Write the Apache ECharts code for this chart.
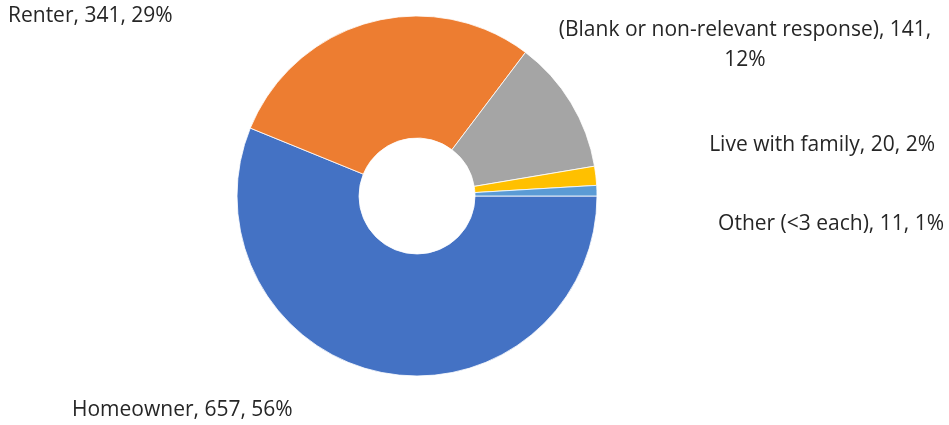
<!DOCTYPE html>
<html>
<head>
<meta charset="utf-8">
<script src="https://cdn.jsdelivr.net/npm/echarts@6/dist/echarts.min.js"></script>
<style>
  html, body { margin: 0; padding: 0; background: #fff; }
  #chart { width: 949px; height: 425px; }
</style>
</head>
<body>
<div id="chart"></div>
<script>
// Housing status of respondents
const categories = ['Homeowner', 'Renter', '(Blank or non-relevant response)', 'Live with family', 'Other (<3 each)'];
const counts = [657, 341, 141, 20, 11];
const colors = ['#4472C4', '#ED7D31', '#A5A5A5', '#FFC000', '#5B9BD5'];

// Where each slice's label sits (left/center/right anchor, middle baseline)
const labelAnchors = [
  { x: 72, y: 410, align: 'left' },
  { x: 8, y: 16, align: 'left' },
  { x: 745, y: 45, align: 'center' },
  { x: 935, y: 145, align: 'right' },
  { x: 944, y: 224, align: 'right' }
];
const wrapAfterValue = [false, false, true, false, false];

const chart = echarts.init(document.getElementById('chart'));
chart.setOption({
  animation: false,
  series: [{
    type: 'pie',
    center: [417, 196],
    radius: [58, 180],
    startAngle: 0,
    clockwise: true,
    percentPrecision: 0,
    avoidLabelOverlap: false,
    itemStyle: { borderColor: 'rgba(255,255,255,0.8)', borderWidth: 1 },
    labelLine: { show: false },
    label: {
      show: true,
      position: 'outside',
      color: '#262626',
      fontFamily: 'Open Sans',
      fontSize: 21,
      lineHeight: 30,
      formatter: p => p.name + ', ' + p.value + ',' + (wrapAfterValue[p.dataIndex] ? '\n' : ' ') + p.percent + '%'
    },
    labelLayout: p => {
      const a = labelAnchors[p.dataIndex];
      return { x: a.x, y: a.y, align: a.align, verticalAlign: 'middle' };
    },
    data: categories.map((name, i) => ({ name, value: counts[i], itemStyle: { color: colors[i] } }))
  }]
});
</script>
</body>
</html>
